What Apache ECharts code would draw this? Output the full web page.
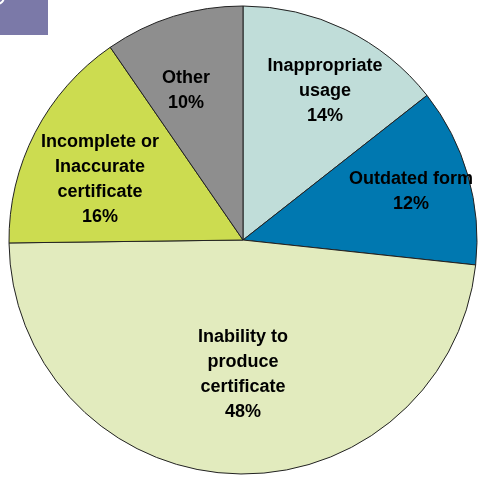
<!DOCTYPE html>
<html>
<head>
<meta charset="utf-8">
<script src="https://cdn.jsdelivr.net/npm/echarts@6/dist/echarts.min.js"></script>
<style>
  html, body { margin: 0; padding: 0; background: #ffffff; }
  #chart { width: 481px; height: 477px; }
</style>
</head>
<body>
<div id="chart"></div>
<script>
// Categories (clockwise from 12 o'clock)
const categories = [
  'Inappropriate\nusage',
  'Outdated form',
  'Inability to\nproduce\ncertificate',
  'Incomplete or\nInaccurate\ncertificate',
  'Other'
];
// Shares (%); labels show rounded values
const shares = [14.4, 12.3, 48.1, 15.6, 9.6];

// Styling / layout (kept separate from data)
const colors = ['#C0DDD9', '#0078B0', '#E2EBBE', '#CCDC50', '#8E8E8E'];
const labelPos = [[325, 91], [411, 192], [243, 375], [100, 180], [186, 91]];

const chart = echarts.init(document.getElementById('chart'), null, { renderer: 'canvas' });

chart.setOption({
  animation: false,
  backgroundColor: '#ffffff',
  graphic: [
    { type: 'rect', shape: { x: 0, y: 0, width: 48, height: 35 }, style: { fill: '#7B79A8' }, silent: true },
    { type: 'circle', shape: { cx: -3, cy: -3, r: 7 }, style: { fill: 'none', stroke: '#ffffff', lineWidth: 2 }, silent: true }
  ],
  series: [{
    type: 'pie',
    center: [243, 240],
    radius: 234,
    startAngle: 90,
    clockwise: true,
    percentPrecision: 0,
    avoidLabelOverlap: false,
    emphasis: { disabled: true },
    itemStyle: { borderColor: '#222', borderWidth: 1 },
    label: {
      show: true,
      position: 'inside',
      formatter: '{b}\n{d}%',
      color: '#000',
      fontFamily: 'Liberation Sans, Arial, sans-serif',
      fontWeight: 'bold',
      fontSize: 18,
      lineHeight: 25,
      align: 'center',
      verticalAlign: 'middle'
    },
    labelLine: { show: false },
    labelLayout: function (p) {
      const pos = labelPos[p.dataIndex];
      return { x: pos[0], y: pos[1], align: 'center', verticalAlign: 'middle' };
    },
    data: categories.map((c, i) => ({
      name: c,
      value: shares[i],
      itemStyle: { color: colors[i] }
    }))
  }]
});
</script>
</body>
</html>
